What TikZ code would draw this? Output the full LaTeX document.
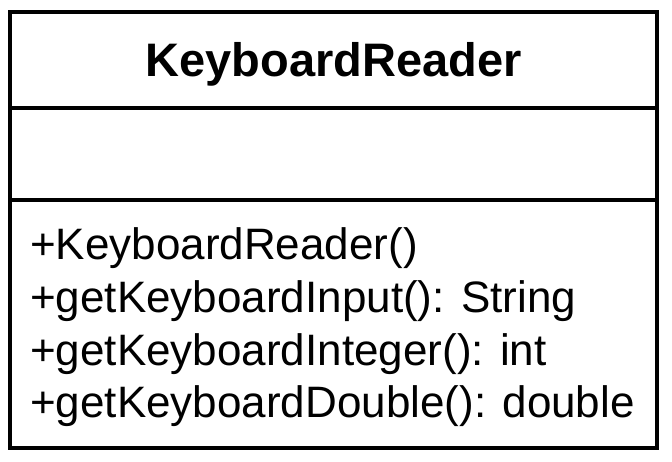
\documentclass[tikz,border=0pt]{standalone}
\usepackage{fontspec}
\setmainfont{Liberation Sans}
\tikzset{
  frame/.style={draw=black, line width=4pt, inner sep=0pt, minimum width=647pt, minimum height=436pt},
  divider/.style={draw=black, line width=4pt},
  titletext/.style={font=\fontsize{47}{56}\selectfont\bfseries, inner sep=0pt, anchor=base},
  optext/.style={font=\fontsize{44}{53}\selectfont, inner sep=0pt, anchor=base west},
}
\begin{document}
\begin{tikzpicture}[x=1pt,y=1pt]
\useasboundingbox (0,0) rectangle (672,462);
\fill[white] (0,0) rectangle (672,462);
\node[frame] (box) at (333.5,232) {};
\coordinate (d1l) at (10,354);
\coordinate (d1r) at (657,354);
\coordinate (d2l) at (10,262);
\coordinate (d2r) at (657,262);
\draw[divider] (d1l) -- (d1r);
\draw[divider] (d2l) -- (d2r);
\node[titletext] (title) at (333.5,385) {KeyboardReader};
\node[optext] (op1) at (30,202) {+KeyboardReader()};
\node[optext] (op2) at (30,149) {+getKeyboardInput(): String};
\node[optext] (op3) at (30,96) {+getKeyboardInteger(): int};
\node[optext] (op4) at (30,44) {+getKeyboardDouble(): double};
\end{tikzpicture}
\end{document}
